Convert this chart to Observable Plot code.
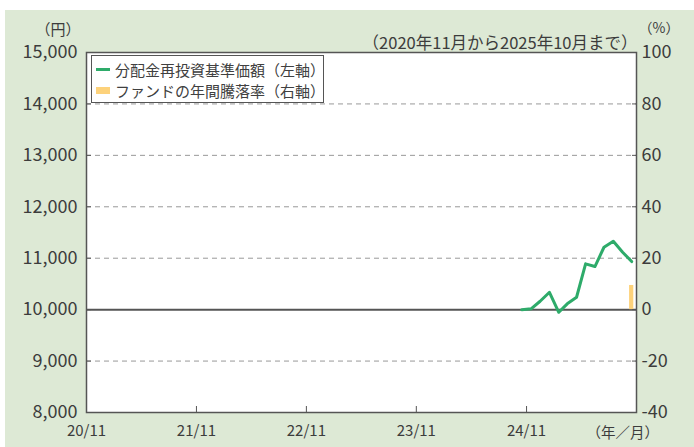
<!DOCTYPE html>
<html><head><meta charset="utf-8">
<script src="https://cdn.jsdelivr.net/npm/d3@7"></script>
<script src="https://cdn.jsdelivr.net/npm/@observablehq/plot@0.6"></script>
<style>
body{margin:0;background:#fff;}
#wrap{position:relative;width:694px;height:447px;overflow:hidden;}
#bg{position:absolute;left:5px;top:10px;right:0;bottom:0;background:#dde9d5;}
#chart{position:absolute;left:0;top:0;}
#legend{position:absolute;left:91px;top:55px;width:233px;height:48px;box-sizing:border-box;background:#fff;border:1px solid #555;font-family:'Noto Sans CJK JP',sans-serif;font-size:15px;color:#404040;padding-top:3px;}
.row{position:relative;height:21px;line-height:21px;padding-left:23px;white-space:nowrap;}
.sw{position:absolute;left:4px;}
</style></head>
<body>
<div id="wrap"><div id="bg"></div><div id="chart"></div><div id="legend"></div></div>
<script>
// ---- data ----
const navDates = ["2024-10-16","2024-11-16","2024-12-16","2025-01-16","2025-02-16","2025-03-16","2025-04-16","2025-05-16","2025-06-16","2025-07-16","2025-08-16","2025-09-16","2025-10-16"];
const navValues = [10000,10016,10163,10338,9949,10113,10241,10891,10838,11213,11330,11116,10935];
const returnDates = ["2025-10-16"];
const returnValues = [9.4];
const seriesNames = ["分配金再投資基準価額（左軸）","ファンドの年間騰落率（右軸）"];
const leftTicks = [8000,9000,10000,11000,12000,13000,14000,15000];
const rightTicks = [-40,-20,0,20,40,60,80,100];
const xTickLabels = ["20/11","21/11","22/11","23/11","24/11"];
const subtitle = "（2020年11月から2025年10月まで）";
const unitLeft = "（円）";
const unitRight = "（%）";
const unitX = "（年／月）";

// ---- derived ----
const colors = ["#2eab6a", "#fdd27b"];
const pctToYen = p => 10000 + p * 50; // right axis (%) mapped onto left axis (yen)
const navData = navDates.map((d, i) => ({date: new Date(d), value: navValues[i]}));
const retData = returnDates.map((d, i) => ({date: new Date(d), value: returnValues[i]}));
const xTicks = xTickLabels.map(s => { const [yy, mm] = s.split("/"); return new Date(Date.UTC(2000 + +yy, +mm - 1, 1)); });
const xFmt = new Map(xTicks.map((t, i) => [+t, xTickLabels[i]]));
const day = 864e5;
const textColor = "#3c3c3c";
const font = "'Noto Sans CJK JP', sans-serif";

const chart = Plot.plot({
  width: 694, height: 447,
  marginLeft: 86, marginRight: 58, marginTop: 52, marginBottom: 35,
  style: {background: "transparent", fontFamily: font, color: textColor},
  x: {type: "utc", domain: [new Date("2020-11-01"), new Date("2025-11-01")]},
  y: {domain: [8000, 15000]},
  marks: [
    Plot.frame({fill: "white", stroke: null}),
    Plot.gridY(leftTicks.filter(v => v !== 8000 && v !== 10000 && v !== 15000), {stroke: "#999", strokeOpacity: 1, strokeDasharray: "5,4"}),
    Plot.ruleY([10000], {stroke: "#555", strokeWidth: 2}),
    Plot.rectY(retData, {x1: d => new Date(+d.date - 7 * day), x2: d => new Date(+d.date + 7 * day), y1: 10000, y2: d => pctToYen(d.value), fill: colors[1]}),
    Plot.line(navData, {x: "date", y: "value", stroke: colors[0], strokeWidth: 3}),
    Plot.frame({stroke: "#555", strokeWidth: 1.5}),
    // left axis
    Plot.axisY(leftTicks, {anchor: "left", tickSize: 0, tickPadding: 9, tickFormat: d3.format(","), fontSize: 18, fill: textColor, label: null}),
    Plot.axisY(leftTicks.slice(1, -1), {anchor: "left", tickSize: -5, fill: "none", stroke: "#555", label: null}),
    // right axis (percent)
    Plot.axisY(rightTicks.map(pctToYen), {anchor: "right", tickSize: 0, tickPadding: 5, tickFormat: v => String((v - 10000) / 50), fontSize: 18, fill: textColor, label: null}),
    Plot.axisY(rightTicks.slice(1, -1).map(pctToYen), {anchor: "right", tickSize: -5, fill: "none", stroke: "#555", label: null}),
    // x axis
    Plot.axisX(xTicks, {anchor: "bottom", tickSize: 0, tickPadding: 13, tickFormat: d => xFmt.get(+d), fontSize: 15, fill: textColor, label: null}),
    Plot.axisX(xTicks.slice(1), {anchor: "bottom", tickSize: -6, fill: "none", stroke: "#555", label: null}),
    // unit labels & subtitle
    Plot.text([unitLeft], {frameAnchor: "top-left", text: d => d, textAnchor: "end", dx: -6, dy: -28, fontSize: 15, fill: textColor}),
    Plot.text([unitRight], {frameAnchor: "top-right", text: d => d, textAnchor: "start", dx: 2, dy: -29, fontSize: 14, fill: textColor}),
    Plot.text([subtitle], {frameAnchor: "top-right", text: d => d, textAnchor: "end", dx: 1, dy: -15, fontSize: 16.5, fill: textColor}),
    Plot.text([unitX], {frameAnchor: "bottom-right", text: d => d, textAnchor: "start", dx: -50, dy: 25, fontSize: 14.5, fill: textColor})
  ]
});
document.getElementById("chart").appendChild(chart);

// legend
const legend = document.getElementById("legend");
seriesNames.forEach((name, i) => {
  const row = document.createElement("div");
  row.className = "row";
  const sw = document.createElement("span");
  sw.className = "sw";
  if (i === 0) { sw.style.cssText = `top:9px;width:14px;height:3px;background:${colors[0]}`; }
  else { sw.style.cssText = `top:7px;width:14px;height:7px;background:${colors[1]}`; }
  row.appendChild(sw);
  row.appendChild(document.createTextNode(name));
  legend.appendChild(row);
});
</script>
</body></html>
